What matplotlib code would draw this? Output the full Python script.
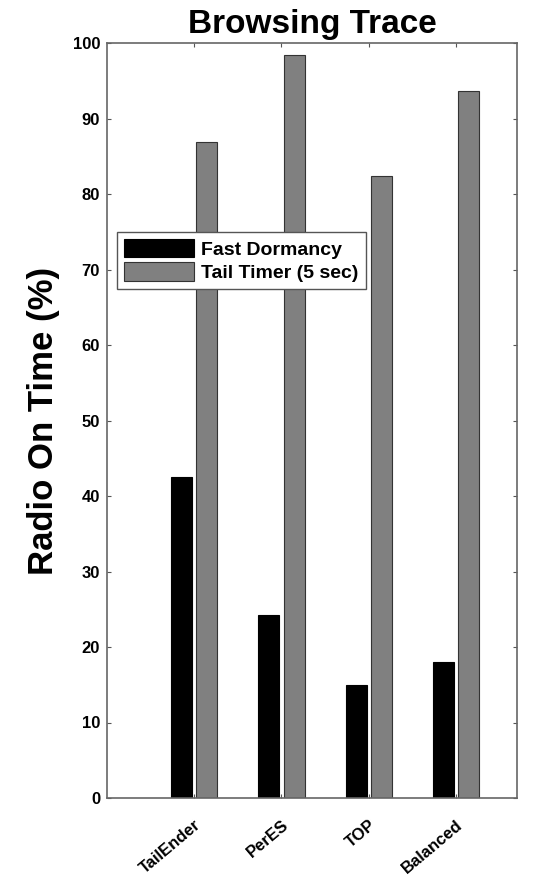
import numpy as np
import matplotlib
matplotlib.use("Agg")
import matplotlib.pyplot as plt

plt.rcParams['font.family'] = ['Liberation Sans', 'DejaVu Sans']
plt.rcParams['font.weight'] = 'bold'

schemes = ['TailEnder', 'PerES', 'TOP', 'Balanced']
fast_dormancy = [42.5, 24.3, 15.0, 18.0]
tail_timer = [86.9, 98.4, 82.4, 93.6]
yticks = [0, 10, 20, 30, 40, 50, 60, 70, 80, 90, 100]

fig = plt.figure(figsize=(5.5, 8.81), dpi=100)
ax = fig.add_axes([107 / 550, 1 - 798 / 881, 410 / 550, 755 / 881])

x = np.arange(1, len(schemes) + 1)
w = 0.24
ax.bar(x - 0.145, fast_dormancy, w, color='black', edgecolor='black',
       linewidth=0.8, label='Fast Dormancy')
ax.bar(x + 0.145, tail_timer, w, color='#808080', edgecolor='#333333',
       linewidth=0.8, label='Tail Timer (5 sec)')

ax.set_xlim(0, 4.7)
ax.set_ylim(0, 100)
ax.set_yticks(yticks)
ax.set_xticks(x)
ax.set_xticklabels(schemes, rotation=40, ha='right', rotation_mode='anchor',
                   fontsize=12)
ax.tick_params(axis='y', labelsize=12, length=3, direction='in', right=True,
               color='#555555', pad=5)
ax.tick_params(axis='x', length=3, direction='in', top=True, color='#555555',
               pad=14)
for s in ax.spines.values():
    s.set_color('#666666')
    s.set_linewidth(1.2)

ax.set_ylabel('Radio On Time (%)', fontsize=25, fontweight='bold')
ax.yaxis.set_label_coords(-0.115, 0.5)
ax.set_title('Browsing Trace', fontsize=24, fontweight='bold', pad=7)

leg = ax.legend(loc='upper left', bbox_to_anchor=(0.024, 0.75), fontsize=14,
                fancybox=False, edgecolor='#555555', framealpha=1,
                handlelength=3.6, handleheight=1.1, borderpad=0.35,
                labelspacing=0.2, handletextpad=0.4, borderaxespad=0)
leg.get_frame().set_linewidth(1.0)

plt.savefig('out.png', dpi=100)
